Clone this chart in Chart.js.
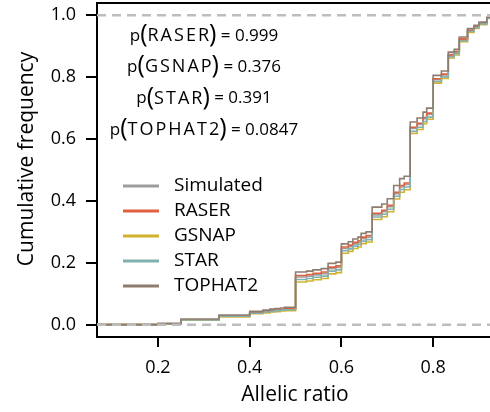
<!DOCTYPE html>
<html>
<head>
<meta charset="utf-8">
<script src="https://cdn.jsdelivr.net/npm/chart.js@4.4.0/dist/chart.umd.min.js"></script>
<style>
  html, body { margin: 0; padding: 0; background: #fff; }
</style>
</head>
<body>
<canvas id="chart" width="490" height="412"></canvas>
<script>
// allelic ratio break points of the empirical CDFs
const ratios = [0.05, 0.2, 0.25, 0.333, 0.4, 0.429, 0.444, 0.455, 0.467, 0.476,
  0.5, 0.524, 0.538, 0.556, 0.571, 0.588, 0.6, 0.615, 0.625, 0.636,
  0.643, 0.654, 0.667, 0.688, 0.7, 0.714, 0.727, 0.737, 0.75, 0.765,
  0.778, 0.786, 0.8, 0.818, 0.833, 0.846, 0.857, 0.875, 0.889, 0.9,
  0.917, 0.95];

const simulated = [0, 0.003, 0.016, 0.028, 0.038, 0.042, 0.045, 0.046, 0.048, 0.05,
  0.154, 0.157, 0.161, 0.165, 0.181, 0.185, 0.246, 0.252, 0.261, 0.266,
  0.278, 0.283, 0.355, 0.365, 0.381, 0.423, 0.445, 0.453, 0.634, 0.647,
  0.666, 0.68, 0.792, 0.807, 0.871, 0.881, 0.922, 0.951, 0.963, 0.974,
  0.992, 1];
const raser = [0, 0.003, 0.016, 0.028, 0.039, 0.043, 0.046, 0.047, 0.049, 0.051,
  0.159, 0.162, 0.166, 0.17, 0.186, 0.19, 0.251, 0.257, 0.266, 0.271,
  0.283, 0.288, 0.36, 0.37, 0.386, 0.428, 0.45, 0.458, 0.638, 0.651,
  0.67, 0.684, 0.795, 0.81, 0.873, 0.883, 0.924, 0.952, 0.964, 0.975,
  0.992, 1];
const gsnap = [0, 0.002, 0.014, 0.025, 0.035, 0.038, 0.041, 0.042, 0.044, 0.045,
  0.138, 0.141, 0.145, 0.149, 0.164, 0.168, 0.231, 0.237, 0.246, 0.251,
  0.262, 0.267, 0.34, 0.349, 0.365, 0.406, 0.428, 0.436, 0.618, 0.631,
  0.65, 0.664, 0.781, 0.796, 0.862, 0.872, 0.915, 0.945, 0.958, 0.97,
  0.99, 1];
const star = [0, 0.003, 0.015, 0.027, 0.037, 0.041, 0.043, 0.045, 0.047, 0.048,
  0.146, 0.149, 0.153, 0.157, 0.173, 0.177, 0.239, 0.245, 0.254, 0.259,
  0.27, 0.275, 0.348, 0.357, 0.373, 0.415, 0.437, 0.445, 0.625, 0.638,
  0.657, 0.671, 0.786, 0.801, 0.866, 0.876, 0.918, 0.948, 0.96, 0.972,
  0.991, 1];
const tophat2 = [0, 0.004, 0.018, 0.031, 0.043, 0.047, 0.05, 0.052, 0.054, 0.056,
  0.17, 0.173, 0.177, 0.181, 0.198, 0.202, 0.261, 0.268, 0.277, 0.283,
  0.295, 0.3, 0.38, 0.39, 0.407, 0.45, 0.472, 0.48, 0.655, 0.668,
  0.687, 0.7, 0.806, 0.82, 0.881, 0.89, 0.93, 0.957, 0.968, 0.978,
  0.994, 1];

const seriesNames = ['Simulated', 'RASER', 'GSNAP', 'STAR', 'TOPHAT2'];
const seriesValues = [simulated, raser, gsnap, star, tophat2];
const seriesColors = ['#9d9d9d', '#e0613f', '#d2b22c', '#82b0b1', '#8d7d71'];

const xTicks = [0.2, 0.4, 0.6, 0.8];
const yTicks = [0, 0.2, 0.4, 0.6, 0.8, 1.0];
const refLevels = [0, 1];

const pNames = ['RASER', 'GSNAP', 'STAR', 'TOPHAT2'];
const pValues = ['0.999', '0.376', '0.391', '0.0847'];

const xMin = 0.067, xMax = 0.924;
const yMin = -0.04, yMax = 1.04;

const FONT = '"Open Sans", "DejaVu Sans", sans-serif';

const datasets = seriesValues.map((vals, i) => ({
  label: seriesNames[i],
  data: ratios.map((r, j) => ({ x: r, y: vals[j] })),
  borderColor: seriesColors[i],
  borderWidth: 1.6,
  stepped: true,
  pointRadius: 0,
  fill: false,
  order: 5 - i + 1
}));
refLevels.forEach(lv => {
  datasets.push({
    label: 'ref' + lv,
    data: [{ x: xMin, y: lv }, { x: xMax, y: lv }],
    borderColor: '#bdbdbd',
    borderWidth: 2.5,
    borderDash: [9, 6],
    pointRadius: 0,
    order: 0
  });
});

const decor = {
  id: 'decor',
  afterDraw(chart) {
    const { ctx, chartArea: a } = chart;
    ctx.save();
    // top line of the box
    ctx.strokeStyle = '#000';
    ctx.lineWidth = 2;
    ctx.beginPath();
    ctx.moveTo(a.left - 1, a.top);
    ctx.lineTo(a.right, a.top);
    ctx.stroke();

    ctx.fillStyle = '#000';
    ctx.textBaseline = 'middle';
    ctx.textAlign = 'center';
    ctx.font = '21px ' + FONT;
    ctx.fillText('Allelic ratio', 295, 395);
    ctx.save();
    ctx.translate(27, 159);
    ctx.rotate(-Math.PI / 2);
    ctx.fillText('Cumulative frequency', 0, 0);
    ctx.restore();

    // legend
    ctx.textAlign = 'left';
    ctx.font = '19px ' + FONT;
    seriesNames.forEach((name, i) => {
      const y = 186 + i * 25;
      ctx.strokeStyle = seriesColors[i];
      ctx.lineWidth = 3;
      ctx.beginPath();
      ctx.moveTo(123, y);
      ctx.lineTo(159, y);
      ctx.stroke();
      ctx.fillText(name, 174, y);
    });

    // p-values, plotmath-like
    pNames.forEach((name, i) => {
      const y = 36 + i * 31.3;
      const parts = [
        { t: 'p', f: '17px ' + FONT, sp: 0, dy: 0 },
        { t: '(', f: '25px ' + FONT, sp: 0, dy: -1 },
        { t: name, f: '18px ' + FONT, sp: 2, dy: 0 },
        { t: ')', f: '25px ' + FONT, sp: 0, dy: -1 },
        { t: ' = ' + pValues[i], f: '17px ' + FONT, sp: 0, dy: 0 }
      ];
      let total = 0;
      parts.forEach(p => {
        ctx.font = p.f;
        let w = 0;
        for (const ch of p.t) w += ctx.measureText(ch).width + p.sp;
        if (p.sp) w -= p.sp;
        total += w;
      });
      let x = 204 - total / 2;
      parts.forEach(p => {
        ctx.font = p.f;
        for (const ch of p.t) {
          ctx.fillText(ch, x, y + p.dy);
          x += ctx.measureText(ch).width + p.sp;
        }
        if (p.sp) x -= p.sp;
      });
    });
    ctx.restore();
  }
};

new Chart(document.getElementById('chart'), {
  type: 'line',
  data: { datasets },
  options: {
    responsive: false,
    animation: false,
    devicePixelRatio: 1,
    layout: { padding: { top: 3, left: 0, right: 0, bottom: 0 } },
    plugins: { legend: { display: false }, tooltip: { enabled: false } },
    scales: {
      x: {
        type: 'linear',
        min: xMin,
        max: xMax,
        afterBuildTicks: s => { s.ticks = xTicks.map(v => ({ value: v })); },
        afterFit: s => { s.height = 75; s.paddingLeft = 0; s.paddingRight = 0; },
        ticks: {
          callback: v => v.toFixed(1),
          color: '#000',
          font: { family: FONT, size: 18 },
          padding: 10,
          maxRotation: 0
        },
        grid: { drawOnChartArea: false, drawTicks: true, tickLength: 10, color: '#000', lineWidth: 2 },
        border: { display: true, color: '#000', width: 2 }
      },
      y: {
        type: 'linear',
        min: yMin,
        max: yMax,
        afterBuildTicks: s => { s.ticks = yTicks.map(v => ({ value: v })); },
        afterFit: s => { s.width = 97; s.paddingTop = 0; s.paddingBottom = 0; },
        ticks: {
          callback: v => v.toFixed(1),
          color: '#000',
          font: { family: FONT, size: 18 },
          padding: 10
        },
        grid: { drawOnChartArea: false, drawTicks: true, tickLength: 11, color: '#000', lineWidth: 2 },
        border: { display: true, color: '#000', width: 2 }
      }
    }
  },
  plugins: [decor]
});
</script>
</body>
</html>
